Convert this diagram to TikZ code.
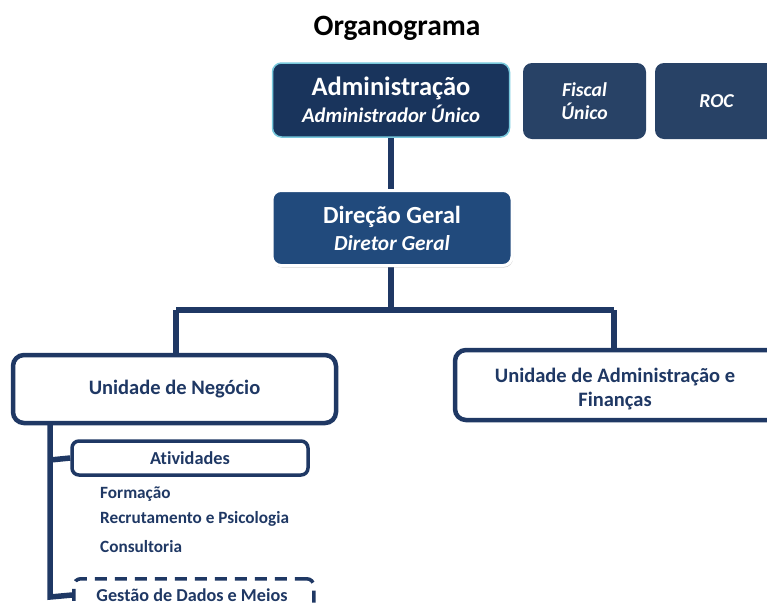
\documentclass[tikz,border=0pt]{standalone}
\usepackage{fontspec}
\setmainfont{Carlito}[Ligatures=NoCommon]
\usetikzlibrary{shadows}
\definecolor{navy}{RGB}{31,56,100}
\definecolor{adminfill}{RGB}{25,52,92}
\definecolor{sidefill}{RGB}{40,66,102}
\definecolor{dirfill}{RGB}{33,74,124}
\definecolor{glow}{RGB}{120,200,220}
\tikzset{
  topbox/.style={rounded corners=9pt, minimum height=74pt, text=white, align=center, inner sep=0pt},
  unitbox/.style={draw=navy, line width=4.5pt, fill=white, rounded corners=11pt, inner sep=0pt, text=navy, align=center, font=\bfseries\fontsize{20.5}{24}\selectfont},
  unittext/.style={inner sep=0pt, text=navy, align=center, font=\bfseries\fontsize{20.5}{24}\selectfont},
  subbox/.style={draw=navy, line width=3.5pt, fill=white, rounded corners=7pt, inner sep=0pt, text=navy, font=\bfseries\fontsize{18.3}{21}\selectfont},
  item/.style={anchor=west, text=navy, inner sep=0pt, font=\bfseries\fontsize{17.2}{20}\selectfont},
  conn/.style={draw=navy, line width=5.5pt},
}
\begin{document}
\begin{tikzpicture}[x=1pt,y=-1pt]
\useasboundingbox (0,0) rectangle (767,606);
\node[font=\bfseries\fontsize{29.5}{34}\selectfont, inner sep=0pt] (title) at (397,28) {Organograma};
% connectors
\coordinate (j1) at (391,310);
\coordinate (jl) at (176,310);
\coordinate (jr) at (614,310);
\draw[conn] (391,137) -- (391,190);
\draw[conn] (391,265) -- (j1);
\draw[conn] (jl) -- (jr);
\draw[conn] (jl) -- (176,357);
\draw[conn] (jr) -- (614,352);
% boxes
\node[topbox, fill=adminfill, draw=glow, line width=1.5pt, minimum width=237pt, font=\fontsize{20}{27}\selectfont] (adm) at (391,100)
  {{\bfseries\fontsize{26.5}{27}\selectfont Administração}\\{\bfseries\itshape\fontsize{20.8}{27}\selectfont Administrador Único}};
\node[topbox, fill=sidefill, minimum width=123pt, minimum height=76pt, font=\bfseries\itshape\fontsize{19.7}{23}\selectfont] (fis) at (584.5,101) {Fiscal\\Único};
\node[topbox, fill=sidefill, minimum width=123pt, minimum height=76pt, font=\bfseries\itshape\fontsize{19.7}{23}\selectfont] (roc) at (716.5,101) {ROC};
\node[topbox, fill=dirfill, draw=white, line width=3pt, minimum width=240pt, minimum height=75pt, font=\fontsize{20}{27}\selectfont, drop shadow={shadow xshift=1pt, shadow yshift=-2pt, opacity=0.35}] (dir) at (392,228)
  {{\bfseries\fontsize{24.6}{27}\selectfont Direção Geral}\\{\bfseries\itshape\fontsize{21.4}{27}\selectfont Diretor Geral}};
\node[unitbox, minimum width=323pt, minimum height=68pt] (un) at (174.5,389) {Unidade de Negócio};
\node[unitbox, minimum width=330pt, minimum height=70pt] (uaf) at (620,385) {};
\node[unittext] (uaft) at (615,389) {Unidade de Administração e\\Finanças};
\node[subbox, minimum width=236pt, minimum height=34pt] (ati) at (190,458) {Atividades};
\node[item] (f1) at (100,494) {Formação};
\node[item] (f2) at (100,519) {Recrutamento e Psicologia};
\node[item] (f3) at (100,547) {Consultoria};
\node[subbox, dashed, dash pattern=on 12pt off 8pt, minimum width=240pt, minimum height=50pt, anchor=north west, text depth=0pt] (ges) at (72,577) {};
\node[text=navy, font=\bfseries\fontsize{18.2}{21}\selectfont, inner sep=0pt] (gest) at (192,595) {Gestão de Dados e Meios};
% sub connectors
\draw[conn] (50,424) -- (50,597) -- (ges.west |- 0,595);
\draw[conn] (50,460) -- (ati.west);
\end{tikzpicture}
\end{document}
